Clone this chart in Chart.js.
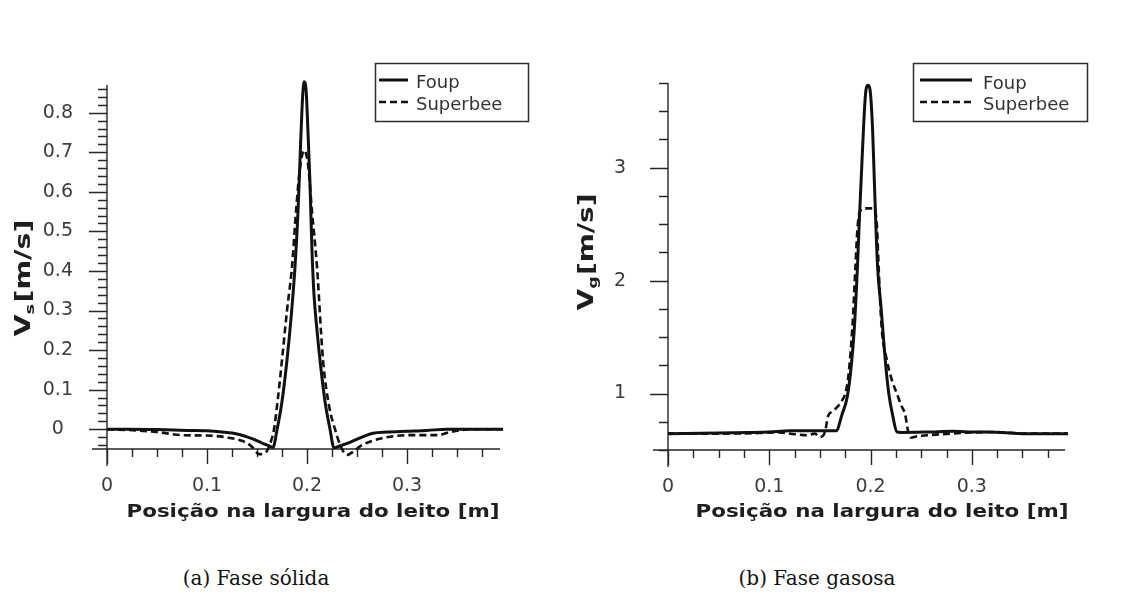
<!DOCTYPE html>
<html>
<head>
<meta charset="utf-8">
<title>Velocidade na largura do leito</title>
<script src="https://cdn.jsdelivr.net/npm/chart.js@4.4.1/dist/chart.umd.min.js"></script>
<style>
  html, body { margin: 0; padding: 0; background: #fff; }
  body { width: 1123px; height: 597px; position: relative; overflow: hidden; }
  .panel { position: absolute; top: 0; width: 550px; height: 540px; }
  .cap { position: absolute; top: 568px; font-family: "DejaVu Serif", serif; font-size: 20px;
         line-height: 20px; color: #111; white-space: nowrap; transform: translateX(-50%); }
</style>
</head>
<body>
<div class="panel" style="left:0"><canvas id="solid" width="550" height="540"></canvas></div>
<div class="panel" style="left:561px"><canvas id="gas" width="550" height="540"></canvas></div>
<div class="cap" style="left:256px">(a) Fase sólida</div>
<div class="cap" style="left:817px">(b) Fase gasosa</div>
<script>
// ---- (a) solid phase velocity Vs [m/s] vs position [m] ----
const solidFoupX = [0, 0.02, 0.05, 0.08, 0.10, 0.115, 0.13, 0.145, 0.155, 0.162, 0.166, 0.170, 0.175, 0.180, 0.184, 0.188, 0.191, 0.193, 0.195, 0.197, 0.199, 0.201, 0.203, 0.205, 0.207, 0.210, 0.213, 0.218, 0.223, 0.227, 0.232, 0.243, 0.255, 0.266, 0.28, 0.30, 0.32, 0.34, 0.37, 0.396];
const solidFoupY = [0, 0, -0.001, -0.003, -0.004, -0.007, -0.012, -0.024, -0.035, -0.042, -0.046, -0.002, 0.07, 0.175, 0.28, 0.41, 0.55, 0.68, 0.81, 0.878, 0.86, 0.75, 0.62, 0.45, 0.34, 0.25, 0.175, 0.07, 0.0, -0.047, -0.043, -0.033, -0.02, -0.01, -0.007, -0.005, -0.003, 0, 0, 0];
const solidSuperbeeX = [0, 0.03, 0.05, 0.075, 0.10, 0.125, 0.14, 0.146, 0.152, 0.159, 0.164, 0.167, 0.171, 0.175, 0.180, 0.185, 0.189, 0.193, 0.197, 0.201, 0.205, 0.210, 0.216, 0.222, 0.228, 0.234, 0.240, 0.247, 0.255, 0.275, 0.30, 0.33, 0.343, 0.366, 0.396];
const solidSuperbeeY = [0, -0.003, -0.007, -0.015, -0.016, -0.023, -0.035, -0.047, -0.063, -0.058, -0.03, 0.0, 0.08, 0.175, 0.30, 0.41, 0.55, 0.66, 0.705, 0.67, 0.55, 0.41, 0.175, 0.06, 0.0, -0.045, -0.065, -0.055, -0.04, -0.023, -0.015, -0.015, -0.007, 0, 0];

// ---- (b) gas phase velocity Vg [m/s] vs position [m] ----
const gasFoupX = [0, 0.05, 0.08, 0.10, 0.12, 0.155, 0.166, 0.172, 0.177, 0.181, 0.184, 0.187, 0.189, 0.191, 0.193, 0.195, 0.1975, 0.200, 0.202, 0.2035, 0.205, 0.207, 0.210, 0.212, 0.215, 0.218, 0.222, 0.226, 0.23, 0.26, 0.28, 0.30, 0.33, 0.35, 0.395];
const gasFoupY = [0.645, 0.65, 0.655, 0.66, 0.67, 0.67, 0.67, 0.82, 0.97, 1.25, 1.58, 2.11, 2.55, 2.95, 3.34, 3.65, 3.73, 3.65, 3.34, 2.95, 2.55, 2.11, 1.8, 1.58, 1.25, 1.0, 0.8, 0.66, 0.655, 0.66, 0.665, 0.66, 0.655, 0.645, 0.645];
const gasSuperbeeX = [0, 0.05, 0.09, 0.11, 0.125, 0.137, 0.145, 0.150, 0.155, 0.158, 0.162, 0.167, 0.172, 0.175, 0.178, 0.182, 0.185, 0.187, 0.189, 0.193, 0.1975, 0.202, 0.205, 0.2065, 0.208, 0.211, 0.216, 0.221, 0.226, 0.230, 0.234, 0.237, 0.240, 0.245, 0.255, 0.27, 0.30, 0.32, 0.34, 0.35, 0.395];
const gasSuperbeeY = [0.645, 0.645, 0.65, 0.655, 0.64, 0.63, 0.645, 0.615, 0.66, 0.80, 0.84, 0.88, 0.94, 1.0, 1.15, 1.58, 2.11, 2.45, 2.6, 2.64, 2.64, 2.64, 2.6, 2.45, 2.11, 1.58, 1.3, 1.12, 1.0, 0.9, 0.82, 0.67, 0.61, 0.62, 0.63, 0.64, 0.655, 0.66, 0.65, 0.645, 0.645];

// ---- tick labels ----
const xTickValues = [0, 0.1, 0.2, 0.3];
const solidYTickValues = [0, 0.1, 0.2, 0.3, 0.4, 0.5, 0.6, 0.7, 0.8];
const gasYTickValues = [1, 2, 3];
const seriesNames = ['Foup', 'Superbee'];
const xTitle = 'Posição na largura do leito [m]';

const TICK_FONT = { family: '"DejaVu Sans"', size: 19 };
const TICK_COLOR = '#3c3c3c';

const pts = (xs, ys) => xs.map((x, i) => ({ x, y: ys[i] }));
const fmt = v => (v === 0 ? '0' : (Number.isInteger(v) ? String(v) : v.toFixed(1)));

// axis lines with major/minor tick marks
const axisDecor = {
  id: 'axisDecor',
  beforeDatasetsDraw(chart, args, o) {
    const { ctx, chartArea: a, scales: { x, y } } = chart;
    ctx.save();
    ctx.strokeStyle = '#262626';
    ctx.lineWidth = 1.4;
    ctx.beginPath();
    ctx.moveTo(a.left, a.top);
    ctx.lineTo(a.left, a.bottom + 17);
    ctx.moveTo(a.left - 15, a.bottom);
    ctx.lineTo(a.right, a.bottom);
    const ny = Math.round((o.yTo - o.yFrom) / o.yMinor);
    for (let i = 0; i <= ny; i++) {
      const v = o.yFrom + i * o.yMinor;
      const r = v / o.yMajor;
      const major = Math.abs(r - Math.round(r)) < 1e-6;
      const py = Math.round(y.getPixelForValue(v)) + 0.5;
      ctx.moveTo(a.left - (major ? 18 : 9), py);
      ctx.lineTo(a.left, py);
    }
    const nx = Math.round((o.xTo - o.xFrom) / o.xMinor);
    for (let i = 0; i <= nx; i++) {
      const v = o.xFrom + i * o.xMinor;
      const r = v / o.xMajor;
      const major = Math.abs(r - Math.round(r)) < 1e-6;
      const px = Math.round(x.getPixelForValue(v)) + 0.5;
      ctx.moveTo(px, a.bottom);
      ctx.lineTo(px, a.bottom + (major ? 15 : 8));
    }
    ctx.stroke();
    ctx.restore();
  }
};

// axis titles (stretched bold text, subscript on the y title)
const axisTitles = {
  id: 'axisTitles',
  afterDraw(chart, args, o) {
    const { ctx } = chart;
    ctx.save();
    ctx.fillStyle = '#1e1e1e';
    ctx.font = `bold ${o.xSize}px "DejaVu Sans"`;
    const w = ctx.measureText(o.xText).width;
    ctx.translate(o.xCx, o.xBase);
    ctx.scale(o.xWidth / w, 1);
    ctx.textAlign = 'center';
    ctx.textBaseline = 'alphabetic';
    ctx.fillText(o.xText, 0, 0);
    ctx.restore();

    ctx.save();
    ctx.fillStyle = '#1e1e1e';
    const big = `bold ${o.ySize}px "DejaVu Sans"`;
    const small = `bold ${Math.round(o.ySize * 0.6)}px "DejaVu Sans"`;
    ctx.font = big;
    const wV = ctx.measureText(o.yMain).width;
    const wU = ctx.measureText(o.yUnit).width;
    ctx.font = small;
    const wS = ctx.measureText(o.ySub).width;
    const total = wV + wS + wU + 1;
    ctx.translate(o.yCx, o.yCy);
    ctx.rotate(-Math.PI / 2);
    ctx.scale(o.yLen / total, 1);
    ctx.textAlign = 'left';
    ctx.textBaseline = 'alphabetic';
    const base = o.ySize * 0.33;
    let px = -total / 2;
    ctx.font = big; ctx.fillText(o.yMain, px, base); px += wV;
    ctx.font = small; ctx.fillText(o.ySub, px, base + o.ySize * 0.2); px += wS + 1;
    ctx.font = big; ctx.fillText(o.yUnit, px, base);
    ctx.restore();
  }
};

// framed legend inside the plot
const boxLegend = {
  id: 'boxLegend',
  afterDraw(chart, args, o) {
    const { ctx } = chart;
    ctx.save();
    ctx.strokeStyle = '#2e2e2e';
    ctx.lineWidth = 1.5;
    ctx.strokeRect(o.left + 0.5, o.top + 0.5, o.width, o.height);
    chart.data.datasets.forEach((ds, i) => {
      const row = o.rows[i];
      ctx.strokeStyle = ds.borderColor;
      ctx.lineWidth = ds.borderWidth;
      ctx.setLineDash(ds.borderDash || []);
      ctx.beginPath();
      ctx.moveTo(o.lineFrom, row.line);
      ctx.lineTo(o.lineTo, row.line);
      ctx.stroke();
      ctx.setLineDash([]);
      ctx.fillStyle = '#333';
      ctx.font = '18px "DejaVu Sans"';
      ctx.textBaseline = 'alphabetic';
      ctx.fillText(ds.label, o.textX, row.base);
    });
    ctx.restore();
  }
};

function series(label, xs, ys, dashed) {
  return {
    label,
    data: pts(xs, ys),
    borderColor: '#111',
    borderWidth: dashed ? 2.6 : 3,
    borderDash: dashed ? [7, 4] : [],
    pointRadius: 0,
    fill: false,
    cubicInterpolationMode: 'monotone',
    clip: false
  };
}

function makeChart(id, c) {
  return new Chart(document.getElementById(id), {
    type: 'line',
    data: { datasets: c.datasets },
    plugins: [axisDecor, axisTitles, boxLegend],
    options: {
      responsive: false,
      animation: false,
      events: [],
      layout: { padding: { top: c.top, right: c.right, left: 0, bottom: 0 } },
      scales: {
        x: {
          type: 'linear', min: 0, max: c.xMax,
          afterBuildTicks: s => { s.ticks = xTickValues.map(v => ({ value: v })); },
          afterFit: s => { s.height = c.xHeight; },
          ticks: { callback: v => fmt(v), font: TICK_FONT, color: TICK_COLOR, padding: 26, maxRotation: 0, autoSkip: false },
          grid: { display: false, drawTicks: false },
          border: { display: false }
        },
        y: {
          type: 'linear', min: c.yMin, max: c.yMax,
          afterBuildTicks: s => { s.ticks = c.yTicks.map(v => ({ value: v })); },
          afterFit: s => { s.width = 107; },
          ticks: { callback: v => fmt(v), font: TICK_FONT, color: TICK_COLOR, padding: c.yPad, crossAlign: 'center', autoSkip: false },
          grid: { display: false, drawTicks: false },
          border: { display: false }
        }
      },
      plugins: {
        legend: { display: false },
        tooltip: { enabled: false },
        axisDecor: c.decor,
        axisTitles: c.titles,
        boxLegend: c.legend
      }
    }
  });
}

makeChart('solid', {
  datasets: [
    series(seriesNames[0], solidFoupX, solidFoupY, false),
    series(seriesNames[1], solidSuperbeeX, solidSuperbeeY, true)
  ],
  top: 85, right: 50, xHeight: 91, xMax: 0.393,
  yMin: -0.05, yMax: 0.87, yTicks: solidYTickValues, yPad: 34,
  decor: { yFrom: -0.04, yTo: 0.86, yMinor: 0.02, yMajor: 0.1, xFrom: 0, xTo: 0.375, xMinor: 0.025, xMajor: 0.1 },
  titles: { xText: xTitle, xSize: 18, xCx: 313, xBase: 517, xWidth: 373,
            yMain: 'V', ySub: 's', yUnit: '[m/s]', ySize: 21, yCx: 23, yCy: 278, yLen: 117 },
  legend: { left: 375, top: 63, width: 153, height: 58, lineFrom: 379, lineTo: 408, textX: 416,
            rows: [{ line: 80, base: 88 }, { line: 102, base: 110 }] }
});

makeChart('gas', {
  datasets: [
    series(seriesNames[0], gasFoupX, gasFoupY, false),
    series(seriesNames[1], gasSuperbeeX, gasSuperbeeY, true)
  ],
  top: 83, right: 46, xHeight: 90, xMax: 0.392,
  yMin: 0.5, yMax: 3.75, yTicks: gasYTickValues, yPad: 42,
  decor: { yFrom: 0.5, yTo: 3.75, yMinor: 0.25, yMajor: 1, xFrom: 0, xTo: 0.375, xMinor: 0.025, xMajor: 0.1 },
  titles: { xText: xTitle, xSize: 18, xCx: 321, xBase: 517, xWidth: 373,
            yMain: 'V', ySub: 'g', yUnit: '[m/s]', ySize: 21, yCx: 25, yCy: 252, yLen: 117 },
  legend: { left: 352, top: 63, width: 174, height: 58, lineFrom: 359, lineTo: 411, textX: 422,
            rows: [{ line: 80, base: 89 }, { line: 102, base: 110 }] }
});
</script>
</body>
</html>
